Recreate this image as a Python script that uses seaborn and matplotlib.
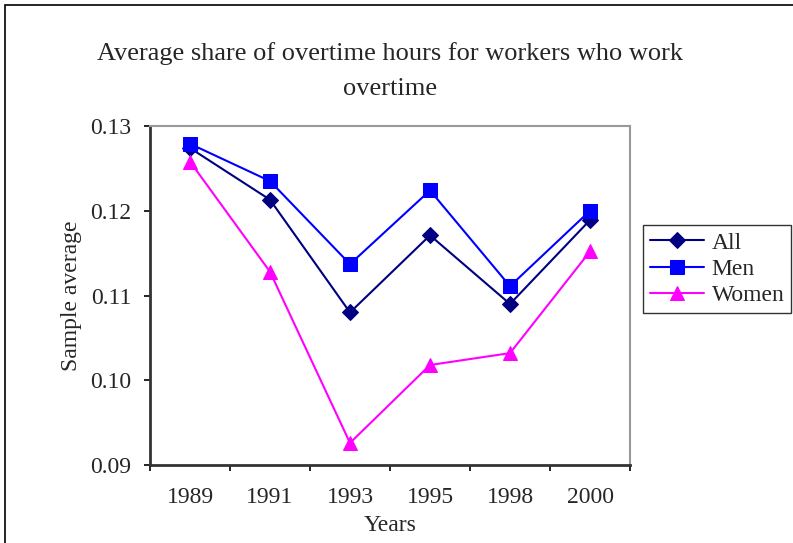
import matplotlib
matplotlib.use('Agg')
import matplotlib.pyplot as plt
import seaborn as sns
import pandas as pd
from matplotlib.patches import Rectangle

# Values
years = ['1989', '1991', '1993', '1995', '1998', '2000']
all_vals = [0.1274, 0.1213, 0.1080, 0.1171, 0.1090, 0.1189]
men_vals = [0.1279, 0.1235, 0.1137, 0.1224, 0.1111, 0.1200]
women_vals = [0.1258, 0.1128, 0.0926, 0.1018, 0.1032, 0.1152]
series_names = ['All', 'Men', 'Women']

df = pd.DataFrame({'Years': years, 'All': all_vals, 'Men': men_vals, 'Women': women_vals})
long_df = df.melt(id_vars='Years', var_name='group', value_name='value')
long_df['pos'] = long_df['Years'].map({y: i for i, y in enumerate(years)})

sns.set_style('white')
plt.rcParams['font.family'] = ['Liberation Serif', 'DejaVu Serif']

fig = plt.figure(figsize=(7.93, 5.43), dpi=100)
ax = fig.add_axes([150 / 793, 78 / 543, 480 / 793, 339 / 543])

palette = {'All': '#000080', 'Men': '#0000ff', 'Women': '#ff00ff'}
markers = {'All': 'D', 'Men': 's', 'Women': '^'}
sizes = {'All': 8, 'Men': 10, 'Women': 10}

for name in series_names:
    sub = long_df[long_df['group'] == name]
    sns.lineplot(data=sub, x='pos', y='value', ax=ax, color=palette[name],
                 marker=markers[name], markersize=sizes[name],
                 markeredgecolor=palette[name], linewidth=1.5, label=name)

ax.set_xlim(-0.5, len(years) - 0.5)
ax.set_ylim(0.09, 0.13)
ax.set_yticks([0.09, 0.10, 0.11, 0.12, 0.13])
ax.set_yticklabels(['0.09', '0.10', '0.11', '0.12', '0.13'], fontsize=17)

# Excel style: ticks between categories, labels at the centres
ax.set_xticks([i - 0.5 for i in range(len(years) + 1)])
ax.set_xticklabels([])
ax.set_xticks(range(len(years)), minor=True)
ax.set_xticklabels(years, minor=True, fontsize=17)
ax.tick_params(axis='x', which='minor', length=0, pad=16)
ax.tick_params(axis='both', which='major', direction='out', length=4.5, width=1.2,
               color='black', left=True, bottom=True)
ax.tick_params(axis='y', which='major', pad=9)

for side in ['left', 'bottom']:
    ax.spines[side].set_color('#333333')
    ax.spines[side].set_linewidth(2)
for side in ['top', 'right']:
    ax.spines[side].set_visible(True)
    ax.spines[side].set_color('#999999')
    ax.spines[side].set_linewidth(1.5)

ax.set_xlabel('Years', fontsize=17, labelpad=5)
ax.set_ylabel('Sample average', fontsize=17, labelpad=6)

fig.text(390 / 793, 1 - 71 / 543, 'Average share of overtime hours for workers who work\novertime',
         ha='center', va='center', fontsize=19, linespacing=1.8)

leg = ax.legend(loc='upper left', bbox_to_anchor=(643 / 793, 1 - 225 / 543),
                bbox_transform=fig.transFigure, frameon=True, fancybox=False,
                fontsize=17, handlelength=2.3, borderpad=0.3, labelspacing=0.2,
                handletextpad=0.3, borderaxespad=0)
leg.get_frame().set_edgecolor('black')
leg.get_frame().set_linewidth(1)

# outer chart border
fig.patches.append(Rectangle((5 / 793, -0.1), 1.2, 1.1 - 5 / 543, transform=fig.transFigure,
                             fill=False, edgecolor='black', linewidth=1.2))

fig.savefig('out.png', dpi=100)
